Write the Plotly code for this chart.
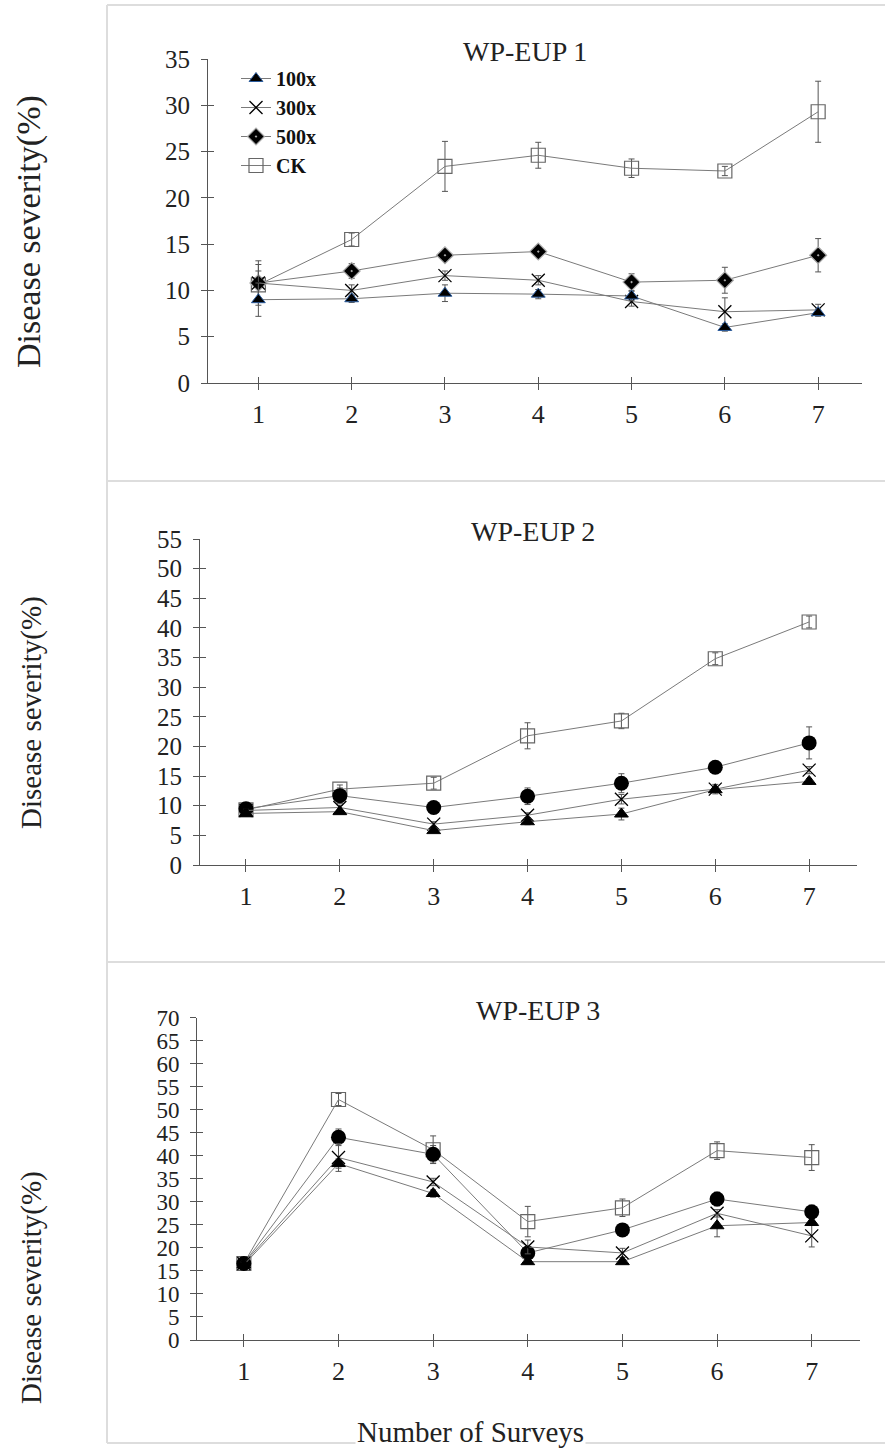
import plotly.graph_objects as go

W, H = 886, 1449

surveys = [1, 2, 3, 4, 5, 6, 7]
series_names = ["100x", "300x", "500x", "CK"]

# Panel 1: WP-EUP 1
p1_100x = [9.0, 9.1, 9.7, 9.6, 9.4, 6.0, 7.6]
p1_100x_err = [1.8, 0.4, 0.9, 0.5, 0.5, 0.4, 0.4]
p1_300x = [10.8, 10.0, 11.6, 11.1, 8.8, 7.7, 7.9]
p1_300x_err = [2.0, 0.6, 0.5, 0.5, 0.5, 1.5, 0.6]
p1_500x = [10.8, 12.1, 13.8, 14.2, 10.9, 11.1, 13.8]
p1_500x_err = [2.4, 0.8, 0.3, 0.3, 0.9, 1.4, 1.8]
p1_ck = [10.6, 15.5, 23.4, 24.6, 23.2, 22.9, 29.3]
p1_ck_err = [1.5, 0.7, 2.7, 1.4, 1.0, 0.5, 3.3]

# Panel 2: WP-EUP 2
p2_100x = [8.7, 9.0, 5.8, 7.3, 8.6, 12.7, 14.1]
p2_100x_err = [0.3, 0.3, 0.3, 0.5, 1.0, 0.4, 0.5]
p2_300x = [9.2, 9.7, 6.9, 8.4, 11.1, 12.8, 16.0]
p2_300x_err = [0.3, 0.4, 0.4, 0.4, 0.8, 0.8, 0.6]
p2_500x = [9.5, 11.7, 9.7, 11.6, 13.8, 16.5, 20.6]
p2_500x_err = [0.4, 1.3, 0.4, 1.4, 1.6, 0.4, 2.7]
p2_ck = [9.3, 12.8, 13.8, 21.8, 24.3, 34.8, 41.0]
p2_ck_err = [0.3, 0.7, 1.0, 2.2, 1.3, 1.0, 1.0]

# Panel 3: WP-EUP 3
p3_100x = [16.3, 38.3, 31.8, 17.0, 17.0, 24.8, 25.5]
p3_100x_err = [0.5, 1.0, 0.8, 0.5, 0.5, 2.4, 0.5]
p3_300x = [16.6, 39.6, 34.3, 20.2, 18.9, 27.5, 22.6]
p3_300x_err = [0.5, 3.0, 0.8, 1.5, 1.0, 0.8, 2.4]
p3_500x = [16.6, 44.0, 40.3, 18.9, 23.9, 30.6, 27.8]
p3_500x_err = [0.5, 1.8, 1.9, 0.5, 0.8, 1.5, 1.5]
p3_ck = [16.6, 52.2, 41.3, 25.7, 28.7, 41.1, 39.6]
p3_ck_err = [0.5, 1.3, 3.0, 3.3, 1.9, 1.9, 2.8]

panel_titles = ["WP-EUP 1", "WP-EUP 2", "WP-EUP 3"]
y_maxes = [35, 55, 70]
x_tick_labels = ["1", "2", "3", "4", "5", "6", "7"]
y_label = "Disease severity(%)"
x_label = "Number of Surveys"

panels = [
    [(p1_100x, p1_100x_err), (p1_300x, p1_300x_err), (p1_500x, p1_500x_err), (p1_ck, p1_ck_err)],
    [(p2_100x, p2_100x_err), (p2_300x, p2_300x_err), (p2_500x, p2_500x_err), (p2_ck, p2_ck_err)],
    [(p3_100x, p3_100x_err), (p3_300x, p3_300x_err), (p3_500x, p3_500x_err), (p3_ck, p3_ck_err)],
]

SERIF = "Liberation Serif, Times New Roman, serif"
LINE = "#7a7a7a"

# pixel geometry of each plot area: left, right, top(ymax), bottom(0), x range
geo = [
    dict(l=208, r=862, t=59, b=383, xr=[0.46, 7.47]),
    dict(l=200, r=857, t=539, b=865, xr=[0.51, 7.51]),
    dict(l=197, r=860, t=1017.5, b=1340, xr=[0.505, 7.51]),
]
title_pos = [(525, 52), (533, 531), (538, 1010)]
ylab_pos = [(29, 232), (31, 713), (31, 1288)]
ylab_size = [34, 29, 29]
ytick_size = [25, 25, 23]


def marker_style(series_idx, panel_idx):
    if series_idx == 0:
        return dict(symbol="triangle-up", size=12, color="black",
                    line=dict(color="#2b5c9e" if panel_idx == 0 else "black", width=1))
    if series_idx == 1:
        return dict(symbol="x-thin-open", size=13, color="black",
                    line=dict(color="#222", width=1.3))
    if series_idx == 2:
        if panel_idx == 0:
            return dict(symbol="diamond-dot", size=13, color="black",
                        line=dict(color="#aaaaaa", width=1.2))
        return dict(symbol="circle", size=15, color="black", line=dict(color="black", width=0))
    return dict(symbol="square-open", size=14, color="#666", line=dict(color="#666", width=1.2))


fig = go.Figure()
layout = {}
for p, series in enumerate(panels):
    g = geo[p]
    xa = "x" if p == 0 else f"x{p+1}"
    ya = "y" if p == 0 else f"y{p+1}"
    for s in [3, 2, 1, 0]:
        vals, errs = series[s]
        fig.add_trace(go.Scatter(
            x=surveys, y=vals, mode="lines+markers", name=series_names[s],
            xaxis=xa, yaxis=ya, showlegend=(p == 0),
            legendrank=s + 1,
            line=dict(color=LINE, width=1),
            marker=marker_style(s, p),
            error_y=dict(type="data", array=errs, visible=True,
                         color="#555", thickness=1, width=3),
        ))
    dom_x = [g["l"] / W, g["r"] / W]
    dom_y = [(H - g["b"]) / H, (H - g["t"]) / H]
    ymax = y_maxes[p]
    yticks = list(range(0, ymax + 1, 5))
    kx = "xaxis" if p == 0 else f"xaxis{p+1}"
    ky = "yaxis" if p == 0 else f"yaxis{p+1}"
    layout[kx] = dict(domain=dom_x, anchor=ya, range=g["xr"], tickvals=surveys,
                      ticktext=x_tick_labels, ticks="outside", ticklen=6,
                      tickcolor="#555", tickwidth=1, showline=True, linecolor="#555",
                      linewidth=1, showgrid=False, zeroline=False, ticklabelstandoff=2,
                      automargin=False,
                      tickfont=dict(family=SERIF, size=26, color="#222"))
    layout[ky] = dict(domain=dom_y, anchor=xa, range=[0, ymax], tickvals=yticks,
                      ticks="outside", ticklen=6, tickcolor="#555", tickwidth=1,
                      showline=True, linecolor="#555", linewidth=1, showgrid=False,
                      zeroline=False, ticklabelstandoff=6, automargin=False,
                      tickfont=dict(family=SERIF, size=ytick_size[p], color="#222"))
    # overlay axes to get crossing ticks
    n = p + 4
    layout[f"xaxis{n}"] = dict(overlaying=xa, anchor=ya, range=g["xr"], tickvals=surveys,
                               ticks="inside", ticklen=6, tickcolor="#555", tickwidth=1,
                               showticklabels=False, showline=False, showgrid=False,
                               zeroline=False, automargin=False)
    layout[f"yaxis{n}"] = dict(overlaying=ya, anchor=xa, range=[0, ymax], tickvals=yticks,
                               ticks="inside", ticklen=6, tickcolor="#555", tickwidth=1,
                               showticklabels=False, showline=False, showgrid=False,
                               zeroline=False, automargin=False)
    fig.add_trace(go.Scatter(x=[None], y=[None], xaxis=f"x{n}", yaxis=f"y{n}",
                             showlegend=False, hoverinfo="skip"))

annotations = []
for p in range(3):
    tx, ty = title_pos[p]
    annotations.append(dict(x=tx / W, y=1 - ty / H, xref="paper", yref="paper",
                            text=panel_titles[p], showarrow=False,
                            font=dict(family=SERIF, size=28, color="#222"),
                            xanchor="center", yanchor="middle"))
    lx, ly = ylab_pos[p]
    annotations.append(dict(x=lx / W, y=1 - ly / H, xref="paper", yref="paper",
                            text=y_label, showarrow=False, textangle=-90,
                            font=dict(family=SERIF, size=ylab_size[p], color="#222"),
                            xanchor="center", yanchor="middle"))
annotations.append(dict(x=470 / W, y=1 - 1432 / H, xref="paper", yref="paper",
                        text=x_label, showarrow=False, bgcolor="white",
                        font=dict(family=SERIF, size=29, color="#222"),
                        xanchor="center", yanchor="middle"))

BORDER = "#dddddd"
shapes = [
    dict(type="line", xref="paper", yref="paper", x0=107 / W, x1=885 / W,
         y0=1 - 5 / H, y1=1 - 5 / H, line=dict(color=BORDER, width=2)),
    dict(type="line", xref="paper", yref="paper", x0=107 / W, x1=885 / W,
         y0=1 - 481 / H, y1=1 - 481 / H, line=dict(color=BORDER, width=2)),
    dict(type="line", xref="paper", yref="paper", x0=107 / W, x1=885 / W,
         y0=1 - 962 / H, y1=1 - 962 / H, line=dict(color=BORDER, width=2)),
    dict(type="line", xref="paper", yref="paper", x0=107 / W, x1=885 / W,
         y0=1 - 1443 / H, y1=1 - 1443 / H, line=dict(color=BORDER, width=2), layer="below"),
    dict(type="line", xref="paper", yref="paper", x0=107 / W, x1=107 / W,
         y0=1 - 5 / H, y1=1 - 1443 / H, line=dict(color=BORDER, width=2)),
]

fig.update_layout(
    width=W, height=H, margin=dict(l=0, r=0, t=0, b=0, pad=0, autoexpand=False),
    paper_bgcolor="white", plot_bgcolor="rgba(0,0,0,0)",
    annotations=annotations, shapes=shapes,
    legend=dict(x=236 / W, y=1 - 59 / H, xanchor="left", yanchor="top",
                bgcolor="rgba(0,0,0,0)", traceorder="normal",
                font=dict(family=SERIF, size=20, color="#111", weight="bold"),
                itemwidth=30, tracegroupgap=0),
    **layout,
)

fig.write_html("out.html")
